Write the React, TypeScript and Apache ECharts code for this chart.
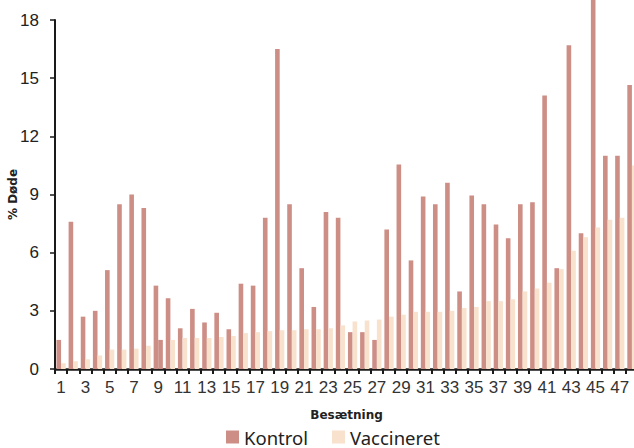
import React, { useEffect, useRef } from "react";
import * as echarts from "echarts";

const categories: string[] = Array.from({ length: 48 }, (_, i) => String(i + 1));

const kontrol: number[] = [
  1.5, 7.6, 2.7, 3.0, 5.1, 8.5, 9.0, 8.3, 4.3, 3.65, 2.1, 3.1, 2.4, 2.9, 2.05, 4.4,
  4.3, 7.8, 16.5, 8.5, 5.2, 3.2, 8.1, 7.8, 1.9, 1.9, 1.5, 7.2, 10.55, 5.6, 8.9, 8.5,
  9.6, 4.0, 8.95, 8.5, 7.45, 6.75, 8.5, 8.6, 14.1, 5.2, 16.7, 7.0, 19.6, 11.0, 11.0, 14.65,
];

const vaccineret: number[] = [
  0.3, 0.4, 0.5, 0.7, 1.0, 1.0, 1.05, 1.2, 1.5, 1.5, 1.6, 1.6, 1.6, 1.65, 1.7, 1.85,
  1.9, 1.95, 2.0, 2.0, 2.05, 2.05, 2.1, 2.25, 2.45, 2.5, 2.55, 2.7, 2.8, 2.95, 2.95, 2.95,
  3.0, 3.15, 3.2, 3.5, 3.5, 3.6, 4.0, 4.15, 4.45, 5.15, 6.1, 6.8, 7.3, 7.7, 7.8, 10.5,
];

// index of a Vaccineret bar drawn in the Kontrol colour in the original
const oddColouredIndex = 8;

const yTicks = { min: 0, max: 18, interval: 3 };

const KONTROL_COLOR = "#cd8e86";
const VACC_COLOR = "#f8e1cd";

export default function App() {
  const ref = useRef<HTMLDivElement>(null);

  useEffect(() => {
    if (!ref.current) return;
    const chart = echarts.init(ref.current, null, { renderer: "svg" });
    const vaccData = vaccineret.map((v, i) =>
      i === oddColouredIndex ? { value: v, itemStyle: { color: KONTROL_COLOR } } : v
    );
    chart.setOption({
      animation: false,
      grid: {
        left: 55,
        right: -4,
        top: 20,
        bottom: 79,
        containLabel: false,
        outerBoundsMode: "none",
      },
      legend: {
        left: 226,
        top: 427,
        padding: 0,
        itemWidth: 13,
        itemHeight: 13,
        itemGap: 24,
        icon: "rect",
        textStyle: { fontFamily: "Noto Sans", fontSize: 18.5, color: "#222", lineHeight: 20 },
        data: ["Kontrol", "Vaccineret"],
      },
      xAxis: {
        type: "category",
        data: categories,
        name: "Besætning",
        nameLocation: "middle",
        nameGap: 40,
        nameMoveOverlap: false,
        nameTextStyle: { fontFamily: "DejaVu Sans", fontWeight: "bold", fontSize: 12, color: "#222" },
        axisLine: { lineStyle: { color: "#1a1a1a", width: 2.5 } },
        axisTick: { show: true, interval: 0, length: 5, lineStyle: { color: "#1a1a1a", width: 2 } },
        axisLabel: {
          interval: 1,
          margin: 10,
          fontFamily: "Liberation Sans",
          fontSize: 17,
          color: "#333",
        },
        splitLine: { show: false },
      },
      yAxis: {
        type: "value",
        min: yTicks.min,
        max: yTicks.max,
        interval: yTicks.interval,
        name: "% Døde",
        nameLocation: "middle",
        nameGap: 36,
        nameMoveOverlap: false,
        nameTextStyle: { fontFamily: "DejaVu Sans", fontWeight: "bold", fontSize: 12, color: "#222" },
        axisLine: { show: true, lineStyle: { color: "#1a1a1a", width: 2 } },
        axisTick: { show: true, length: 5, lineStyle: { color: "#1a1a1a", width: 1.5 } },
        axisLabel: { margin: 16, fontFamily: "Liberation Sans", fontSize: 17, color: "#222" },
        splitLine: { show: false },
      },
      series: [
        {
          name: "Kontrol",
          type: "bar",
          data: kontrol,
          clip: false,
          barGap: "0%",
          barCategoryGap: "24%",
          itemStyle: { color: KONTROL_COLOR },
        },
        {
          name: "Vaccineret",
          type: "bar",
          data: vaccData,
          clip: false,
          barGap: "0%",
          barCategoryGap: "24%",
          itemStyle: { color: VACC_COLOR },
        },
      ],
    });
    return () => chart.dispose();
  }, []);

  return (
    <div
      ref={ref}
      style={{ position: "fixed", left: 0, top: 0, width: 634, height: 448, background: "#fff" }}
    />
  );
}
